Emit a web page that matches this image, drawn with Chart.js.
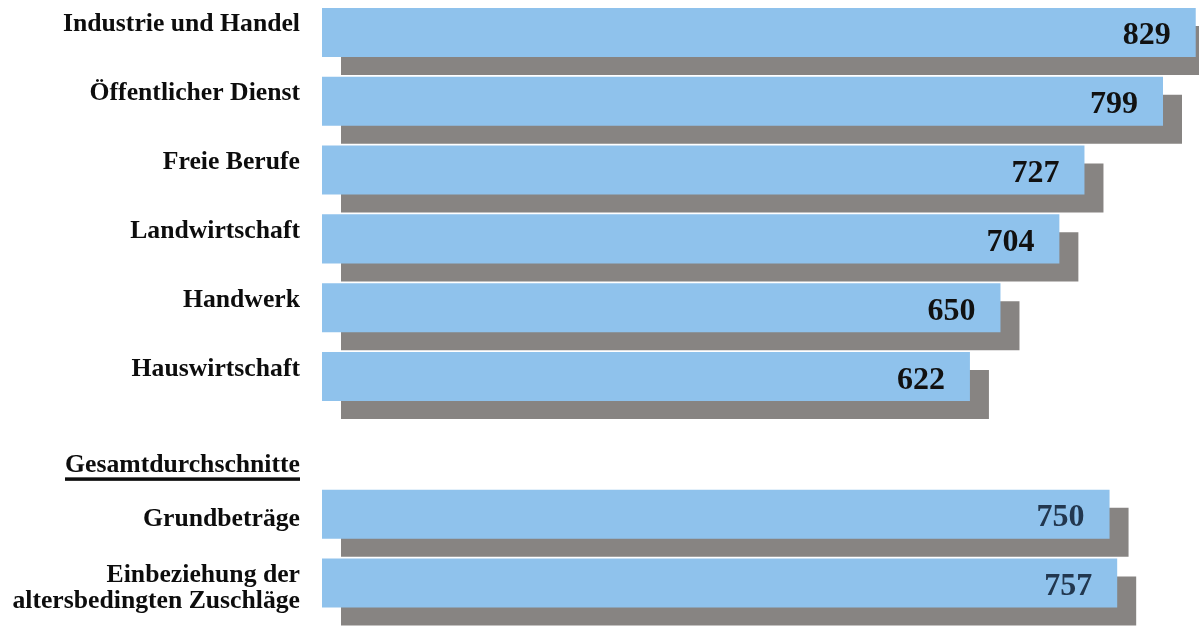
<!DOCTYPE html>
<html>
<head>
<meta charset="utf-8">
<script src="https://cdn.jsdelivr.net/npm/chart.js@4.4.1/dist/chart.umd.min.js"></script>
<style>
  html, body { margin: 0; padding: 0; background: #ffffff; overflow: hidden; width: 1199px; height: 627px; }
  #wrap { position: absolute; left: 0; top: -2px; width: 1199px; height: 631px; }
</style>
</head>
<body>
<div id="wrap"><canvas id="c"></canvas></div>
<script>
const categories = [
  'Industrie und Handel',
  'Öffentlicher Dienst',
  'Freie Berufe',
  'Landwirtschaft',
  'Handwerk',
  'Hauswirtschaft',
  'Gesamtdurchschnitte',
  'Grundbeträge',
  ['Einbeziehung der', 'altersbedingten Zuschläge']
];
const values = [829, 799, 727, 704, 650, 622, null, 750, 757];
const headerIndex = 6;
const xMin = 28;
const xMax = 832;

const BAR_COLOR = '#8fc2ec';
const SHADOW_COLOR = '#878482';
const LABEL_FONT = 'bold 25.7px "Liberation Serif", "Times New Roman", serif';
const VALUE_FONT = 'bold 32px "Liberation Serif", "Times New Roman", serif';

const shadowPlugin = {
  id: 'barShadow',
  beforeDatasetDraw(chart) {
    const ctx = chart.ctx;
    ctx.save();
    ctx.shadowColor = SHADOW_COLOR;
    ctx.shadowOffsetX = 19;
    ctx.shadowOffsetY = 18;
    ctx.shadowBlur = 0;
  },
  afterDatasetDraw(chart) {
    chart.ctx.restore();
  }
};

const textPlugin = {
  id: 'texts',
  afterDatasetsDraw(chart) {
    const ctx = chart.ctx;
    const meta = chart.getDatasetMeta(0);
    const yScale = chart.scales.y;
    ctx.save();
    // value labels inside bars
    ctx.font = VALUE_FONT;
    ctx.textAlign = 'right';
    ctx.textBaseline = 'alphabetic';
    meta.data.forEach((bar, i) => {
      if (values[i] == null) return;
      ctx.fillStyle = i > headerIndex ? '#22374f' : '#111111';
      ctx.fillText(String(values[i]), bar.x - 25, bar.y + 12);
    });
    // category labels
    ctx.font = LABEL_FONT;
    ctx.fillStyle = '#0d0d0d';
    const xRight = 300;
    categories.forEach((lab, i) => {
      const cy = yScale.getPixelForValue(i);
      if (i === headerIndex) {
        const by = cy + 27;
        ctx.fillText(lab, xRight, by);
        const w = ctx.measureText(lab).width;
        ctx.fillRect(xRight - w, by + 5, w, 3.5);
        return;
      }
      const lines = Array.isArray(lab) ? lab : [lab];
      const shift = i > headerIndex ? 12 : -1;
      const lh = 26;
      lines.forEach((ln, k) => {
        ctx.fillText(ln, xRight, cy + shift + (k - (lines.length - 1) / 2) * lh);
      });
    });
    ctx.restore();
  }
};

new Chart(document.getElementById('c'), {
  type: 'bar',
  data: {
    labels: categories,
    datasets: [{
      data: values,
      backgroundColor: BAR_COLOR,
      borderWidth: 0,
      base: xMin,
      categoryPercentage: 0.713,
      barPercentage: 1,
      clip: false
    }]
  },
  options: {
    indexAxis: 'y',
    responsive: true,
    maintainAspectRatio: false,
    animation: false,
    layout: { padding: { left: 322, right: 0, top: 0, bottom: 11.6 } },
    plugins: { legend: { display: false }, tooltip: { enabled: false } },
    scales: {
      x: { type: 'linear', min: xMin, max: xMax, display: false },
      y: { type: 'category', display: false, grid: { display: false } }
    }
  },
  plugins: [shadowPlugin, textPlugin]
});
</script>
</body>
</html>
